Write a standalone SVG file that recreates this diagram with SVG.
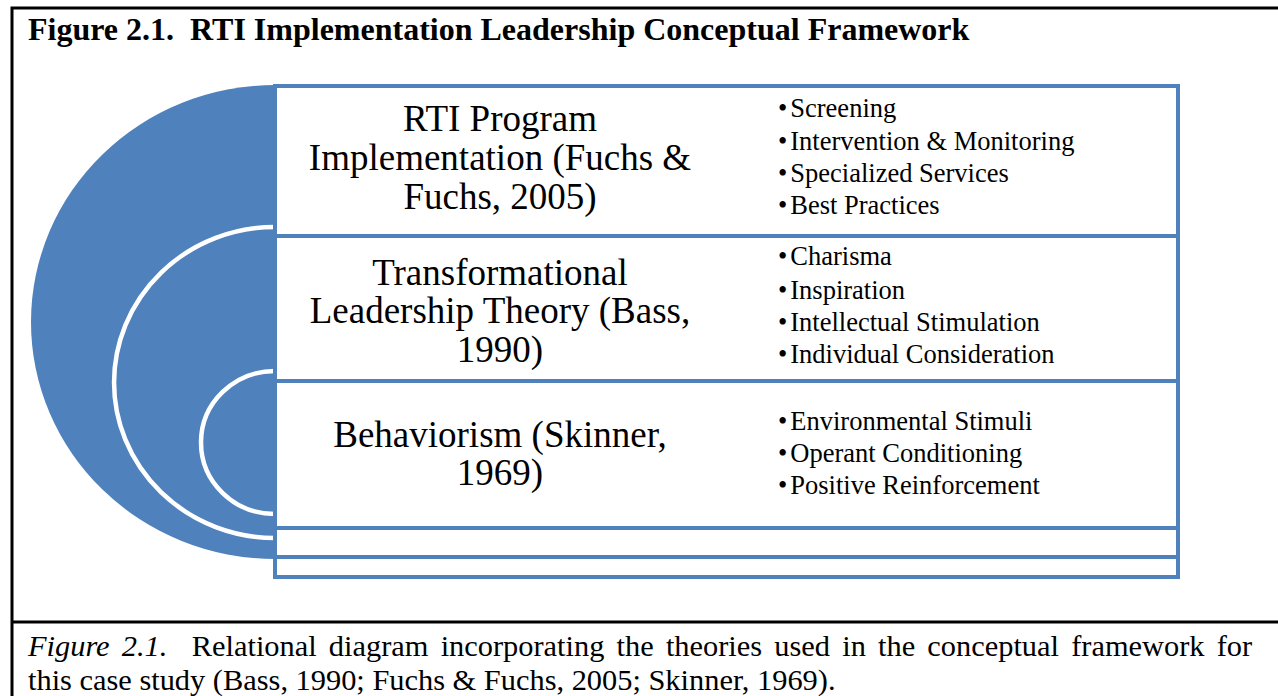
<svg xmlns="http://www.w3.org/2000/svg" width="1278" height="696" viewBox="0 0 1278 696">
  <style>
    .frame { fill: none; stroke: #000; stroke-width: 3; }
    .title { font-family: "Liberation Serif", "Times New Roman", serif; font-weight: bold; font-size: 32px; fill: #000; }
    .caption { font-family: "Liberation Serif", "Times New Roman", serif; font-size: 30.4px; fill: #000; }
    .box { fill: #fff; stroke: #4f81bd; stroke-width: 4; }
    .arc { fill: none; stroke: #fff; stroke-width: 4.5; }
    .head { font-family: "Liberation Serif", "Times New Roman", serif; font-size: 37px; fill: #000; text-anchor: middle; }
    .item { font-family: "Liberation Serif", "Times New Roman", serif; font-size: 26.5px; fill: #000; }
  </style>

  <rect width="1278" height="696" fill="#fff"/>

  <!-- outer frame and caption separator -->
  <path class="frame" d="M12,696 V8 H1280"/>
  <line class="frame" x1="12" y1="622" x2="1278" y2="622"/>

  <text class="title" x="28" y="40" xml:space="preserve">Figure 2.1.  RTI Implementation Leadership Conceptual Framework</text>

  <!-- nested half discs -->
  <g id="arcs">
    <path d="M275,85 A244,237 0 0 0 275,559 Z" fill="#4f81bd"/>
    <path class="arc" d="M275,227 A161,155.5 0 0 0 275,538"/>
    <path class="arc" d="M275,371 A74,71.5 0 0 0 275,514"/>
  </g>

  <g id="rti">
    <rect class="box" x="275" y="86" width="903" height="150"/>
    <text class="head" x="500" y="131">RTI Program</text>
    <text class="head" x="500" y="170">Implementation (Fuchs &amp;</text>
    <text class="head" x="500" y="209">Fuchs, 2005)</text>
    <text class="item" x="778" y="117">•<tspan dx="3">Screening</tspan></text>
    <text class="item" x="778" y="150">•<tspan dx="3">Intervention &amp; Monitoring</tspan></text>
    <text class="item" x="778" y="182">•<tspan dx="3">Specialized Services</tspan></text>
    <text class="item" x="778" y="214">•<tspan dx="3">Best Practices</tspan></text>
  </g>

  <g id="leadership">
    <rect class="box" x="275" y="236" width="903" height="145"/>
    <text class="head" x="500" y="285">Transformational</text>
    <text class="head" x="500" y="323">Leadership Theory (Bass,</text>
    <text class="head" x="500" y="362">1990)</text>
    <text class="item" x="778" y="265">•<tspan dx="3">Charisma</tspan></text>
    <text class="item" x="778" y="299">•<tspan dx="3">Inspiration</tspan></text>
    <text class="item" x="778" y="331">•<tspan dx="3">Intellectual Stimulation</tspan></text>
    <text class="item" x="778" y="363">•<tspan dx="3">Individual Consideration</tspan></text>
  </g>

  <g id="behaviorism">
    <rect class="box" x="275" y="381" width="903" height="147"/>
    <text class="head" x="500" y="447">Behaviorism (Skinner,</text>
    <text class="head" x="500" y="485">1969)</text>
    <text class="item" x="778" y="430">•<tspan dx="3">Environmental Stimuli</tspan></text>
    <text class="item" x="778" y="462">•<tspan dx="3">Operant Conditioning</tspan></text>
    <text class="item" x="778" y="494">•<tspan dx="3">Positive Reinforcement</tspan></text>
  </g>

  <g id="strips">
    <rect class="box" x="275" y="528" width="903" height="29"/>
    <rect class="box" x="275" y="557" width="903" height="20"/>
  </g>

  <text class="caption" x="28" y="656" xml:space="preserve" word-spacing="4.6"><tspan font-style="italic">Figure 2.1.</tspan>  Relational diagram incorporating the theories used in the conceptual framework for</text>
  <text class="caption" x="28" y="690">this case study (Bass, 1990; Fuchs &amp; Fuchs, 2005; Skinner, 1969).</text>
</svg>
